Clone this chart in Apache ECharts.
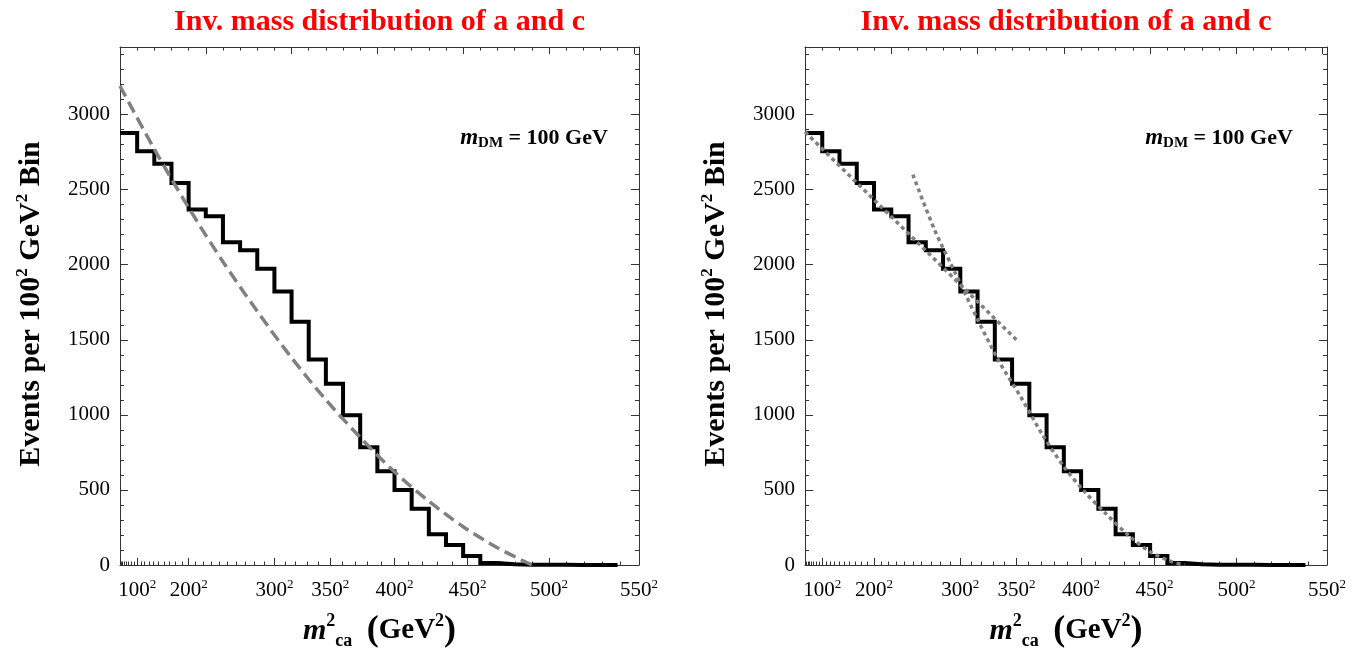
<!DOCTYPE html>
<html><head><meta charset="utf-8">
<script src="https://cdn.jsdelivr.net/npm/echarts@6/dist/echarts.min.js"></script>
<style>html,body{margin:0;padding:0;background:#fff}#c{width:1372px;height:667px}</style>
</head><body><div id="c"></div>
<script>
// ---------------- data ----------------
const panelTitle = 'Inv. mass distribution of a and c';
const binStart = 0;          // GeV^2
const binWidth = 10000;      // 100^2 GeV^2
const histCounts = [2878, 2756, 2673, 2544, 2367, 2322, 2149, 2096, 1973, 1822,
                    1620, 1369, 1207, 997, 785, 624, 500, 375, 205, 133,
                    60, 13, 5, 2, 1, 1, 0, 0, 0];
// left panel: dashed fit
const leftFitX = [0, 20000, 40000, 60000, 80000, 100000, 120000, 140000, 160000, 180000, 200000, 220000, 240000];
const leftFitY = [3190, 2770, 2380, 2020, 1690, 1380, 1100, 850, 620, 425, 255, 115, 0];
// right panel: two dotted fits
const rightFitAX = [0, 122500];
const rightFitAY = [2885, 1500];
const rightFitBX = [62500, 75000, 87500, 100000, 112500, 125000, 137500, 150000, 162500, 175000, 187500, 200000, 212500, 220000];
const rightFitBY = [2600, 2235, 1935, 1636, 1355, 1120, 870, 655, 482, 335, 197, 88, 22, 0];
// axes
const xMajorMasses = [100, 200, 300, 350, 400, 450, 500, 550]; // labels m^2
const yLabelValues = [0, 500, 1000, 1500, 2000, 2500, 3000];
const xMax = 302500, yMax = 3450;

// ---------------- layout / style ----------------
const SERIF = '"Liberation Serif", "Times New Roman", serif';
const frameColor = '#333';
const panels = [{left: 120, width: 519}, {left: 805, width: 522}];
const gridTop = 47, gridHeight = 518;

const sq = m => m * m;
const xMajor = xMajorMasses.map(sq);
const xMinor = [];
for (let m = 10; m <= 540; m += 10) if (!xMajorMasses.includes(m)) xMinor.push(m * m);
const topMajor = [], topMinor = [];
for (let v = 0; v <= 300000; v += 10000) (v % 50000 === 0 ? topMajor : topMinor).push(v);
const yMinor = [];
for (let v = 100; v <= 3400; v += 100) if (v % 500) yMinor.push(v);

const histData = histCounts.map((c, i) => [binStart + i * binWidth, c]);
histData.push([binStart + histCounts.length * binWidth, histCounts[histCounts.length - 1]]);
const zip = (xs, ys) => xs.map((x, i) => [x, ys[i]]);

function xAx(g, pos, ticks, len, withLabel, withLine) {
  return {
    type: 'value', gridIndex: g, position: pos, min: 0, max: xMax,
    axisLine: {show: withLine, onZero: false, lineStyle: {color: frameColor, width: 1}},
    axisTick: {show: true, inside: true, length: len, customValues: ticks, lineStyle: {color: frameColor, width: 1}},
    axisLabel: withLabel ? {
      show: true, customValues: xMajor, margin: 13,
      formatter: v => '{n|' + Math.round(Math.sqrt(v)) + '}{s|2}',
      rich: {
        n: {fontFamily: SERIF, fontSize: 21, color: '#000', lineHeight: 24},
        s: {fontFamily: SERIF, fontSize: 13, color: '#000', lineHeight: 12, verticalAlign: 'top'}
      }
    } : {show: false},
    splitLine: {show: false}, minorTick: {show: false}
  };
}
function yAx(g, pos, ticks, len, withLabel, withLine) {
  return {
    type: 'value', gridIndex: g, position: pos, min: 0, max: yMax,
    axisLine: {show: withLine, onZero: false, lineStyle: {color: frameColor, width: 1}},
    axisTick: {show: true, inside: true, length: len, customValues: ticks, lineStyle: {color: frameColor, width: 1}},
    axisLabel: withLabel ? {
      show: true, customValues: yLabelValues, margin: 10,
      formatter: v => String(Math.round(v)),
      fontFamily: SERIF, fontSize: 21, color: '#000'
    } : {show: false},
    splitLine: {show: false}, minorTick: {show: false}
  };
}

const grid = [], xAxis = [], yAxis = [], series = [], graphic = [];
panels.forEach((p, g) => {
  grid.push({left: p.left, top: gridTop, width: p.width, height: gridHeight, containLabel: false});
  const xb = xAxis.length;
  xAxis.push(xAx(g, 'bottom', xMajor, 7, true, true));
  xAxis.push(xAx(g, 'bottom', xMinor, 3.5, false, false));
  xAxis.push(xAx(g, 'top', topMajor, 7, false, true));
  xAxis.push(xAx(g, 'top', topMinor, 3.5, false, false));
  const yb = yAxis.length;
  yAxis.push(yAx(g, 'left', yLabelValues, 8, true, true));
  yAxis.push(yAx(g, 'left', yMinor, 4, false, false));
  yAxis.push(yAx(g, 'right', yLabelValues, 8, false, true));
  yAxis.push(yAx(g, 'right', yMinor, 4, false, false));

  series.push({
    type: 'line', step: 'end', data: histData, xAxisIndex: xb, yAxisIndex: yb,
    symbol: 'none', lineStyle: {color: '#000', width: 4, join: 'miter'}, z: 3, silent: true
  });
  if (g === 0) {
    series.push({
      type: 'line', smooth: 0.3, data: zip(leftFitX, leftFitY), xAxisIndex: xb, yAxisIndex: yb,
      symbol: 'none', lineStyle: {color: '#808080', width: 3.5, type: [12, 6], cap: 'butt'}, z: 4, silent: true
    });
  } else {
    series.push({
      type: 'line', data: zip(rightFitAX, rightFitAY), xAxisIndex: xb, yAxisIndex: yb,
      symbol: 'none', lineStyle: {color: '#808080', width: 3.5, type: [4, 3.5], cap: 'butt'}, z: 4, silent: true
    });
    series.push({
      type: 'line', smooth: 0.3, data: zip(rightFitBX, rightFitBY), xAxisIndex: xb, yAxisIndex: yb,
      symbol: 'none', lineStyle: {color: '#808080', width: 3.5, type: [4, 3.5], cap: 'butt'}, z: 4, silent: true
    });
  }

  const cx = p.left + p.width / 2;
  graphic.push({
    type: 'text', x: cx, y: 22, z: 10,
    style: {text: panelTitle, fill: '#ff0000', font: 'bold 30px ' + SERIF, align: 'center', verticalAlign: 'middle'}
  });
  graphic.push({
    type: 'text', x: p.left + 414, y: 138, z: 10,
    style: {
      text: '{mi|m}{sub|DM}{t| = 100 GeV}', align: 'center', verticalAlign: 'middle',
      rich: {
        mi: {font: 'italic bold 23px ' + SERIF, fill: '#000', lineHeight: 26},
        sub: {font: 'bold 15px ' + SERIF, fill: '#000', lineHeight: 13, verticalAlign: 'bottom'},
        t: {font: 'bold 22px ' + SERIF, fill: '#000', lineHeight: 26}
      }
    }
  });
  graphic.push({
    type: 'text', x: p.left - 89, y: 304, rotation: Math.PI / 2, z: 10,
    style: {
      text: '{t|Events per 100}{s|2}{t| GeV}{s|2}{t| Bin}', align: 'center', verticalAlign: 'middle',
      rich: {
        t: {font: 'bold 30px ' + SERIF, fill: '#000', lineHeight: 34},
        s: {font: 'bold 17px ' + SERIF, fill: '#000', lineHeight: 17, verticalAlign: 'top'}
      }
    }
  });
  graphic.push({
    type: 'text', x: cx, y: 631, z: 10,
    style: {
      text: '{m|m}{s|2}{b|ca}{t|  }{p|(}{t|GeV}{s|2}{p|)}', align: 'center', verticalAlign: 'middle',
      rich: {
        m: {font: 'italic bold 30px ' + SERIF, fill: '#000', lineHeight: 38},
        s: {font: 'bold 18px ' + SERIF, fill: '#000', lineHeight: 19, verticalAlign: 'top'},
        b: {font: 'bold 18px ' + SERIF, fill: '#000', lineHeight: 16, verticalAlign: 'bottom'},
        t: {font: 'bold 29px ' + SERIF, fill: '#000', lineHeight: 38},
        p: {font: 'bold 36px ' + SERIF, fill: '#000', lineHeight: 38}
      }
    }
  });
});

const chart = echarts.init(document.getElementById('c'), null, {renderer: 'canvas'});
chart.setOption({
  animation: false,
  backgroundColor: '#fff',
  grid, xAxis, yAxis, series, graphic
});
</script>
</body></html>
